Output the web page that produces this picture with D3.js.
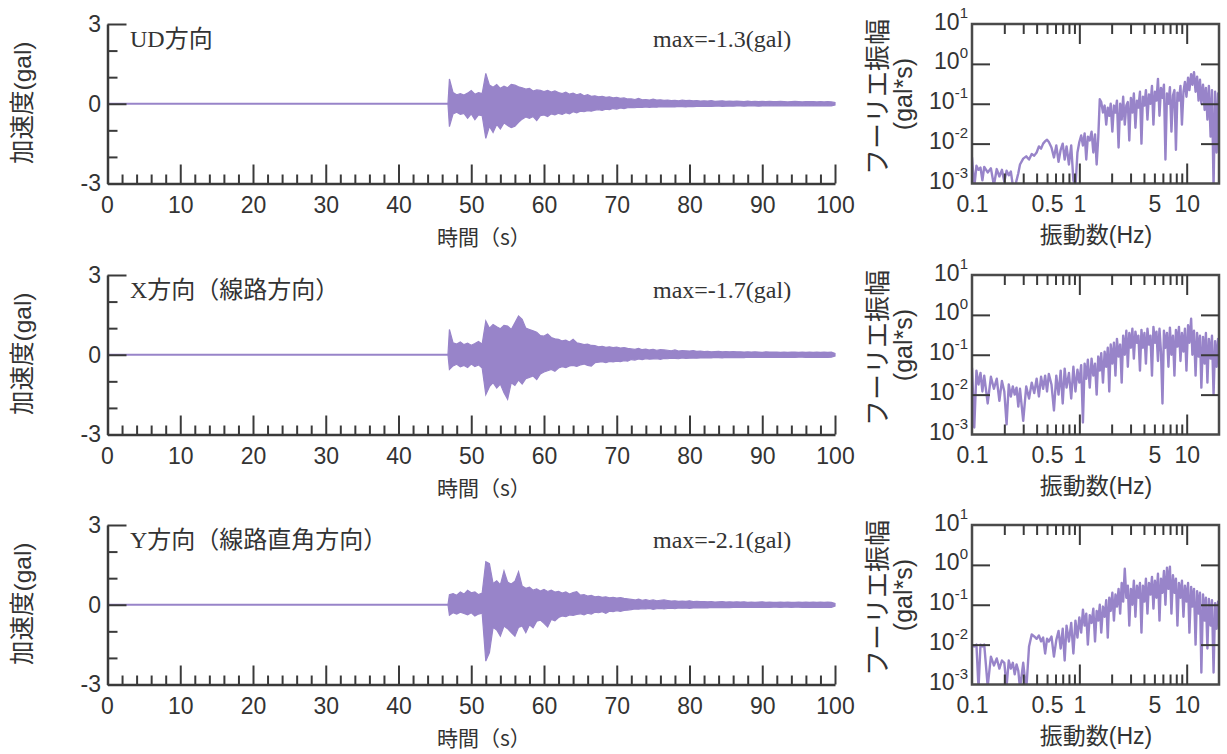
<!DOCTYPE html>
<html>
<head>
<meta charset="utf-8">
<script src="https://cdn.jsdelivr.net/npm/d3@7"></script>
<style>
  body { margin: 0; background: #fff; }
  text { fill: #333; }
</style>
</head>
<body>
<svg width="1227" height="754"></svg>
<script>
// ---- chart data ----
var titles = ["UD方向", "X方向（線路方向）", "Y方向（線路直角方向）"];
var maxLabels = ["max=-1.3(gal)", "max=-1.7(gal)", "max=-2.1(gal)"];
var timeTicks = [0, 10, 20, 30, 40, 50, 60, 70, 80, 90, 100];
var accTicks = [3, 0, -3];
var accMinorTicks = [2, 1, -1, -2];
var freqTickLabels = [0.1, 0.5, 1, 5, 10];
var ampTicks = [10, 1, 0.1, 0.01, 0.001];

// record is flat until the P onset, then peak envelope per 0.5 s bin (gal)
var onsetTime = 46.8;
var binStart = 47.0;
var binStep = 0.5;

var udUpper = [
  0.93,0.42,0.34,0.38,0.33,0.40,0.50,0.36,0.42,0.38,
  1.14,0.70,0.62,0.72,0.58,0.66,0.60,0.73,0.70,0.64,
  0.60,0.55,0.58,0.48,0.52,0.50,0.46,0.50,0.44,0.48,
  0.42,0.38,0.44,0.36,0.40,0.34,0.38,0.30,0.34,0.28,
  0.30,0.26,0.28,0.24,0.26,0.22,0.24,0.20,0.22,0.18,
  0.18,0.16,0.20,0.15,0.16,0.14,0.17,0.14,0.15,0.13,
  0.14,0.12,0.13,0.11,0.14,0.12,0.13,0.11,0.12,0.10,
  0.11,0.10,0.12,0.09,0.10,0.11,0.09,0.10,0.09,0.10,
  0.09,0.08,0.10,0.08,0.09,0.08,0.09,0.08,0.09,0.08,
  0.08,0.09,0.08,0.07,0.08,0.09,0.08,0.07,0.08,0.08,
  0.08,0.07,0.08,0.07,0.08,0.07];
var udLower = [
  -0.86,-0.38,-0.32,-0.40,-0.36,-0.55,-0.38,-0.60,-0.42,-0.45,
  -1.30,-0.85,-1.08,-0.78,-0.95,-0.72,-0.82,-0.90,-0.85,-0.70,
  -0.58,-0.50,-0.55,-0.48,-0.63,-0.45,-0.42,-0.48,-0.38,-0.42,
  -0.36,-0.40,-0.34,-0.38,-0.30,-0.34,-0.28,-0.30,-0.26,-0.28,
  -0.24,-0.22,-0.25,-0.20,-0.22,-0.18,-0.20,-0.16,-0.18,-0.15,
  -0.14,-0.15,-0.13,-0.14,-0.12,-0.14,-0.12,-0.13,-0.11,-0.12,
  -0.12,-0.11,-0.12,-0.10,-0.11,-0.12,-0.10,-0.11,-0.10,-0.09,
  -0.10,-0.09,-0.10,-0.09,-0.08,-0.10,-0.09,-0.08,-0.09,-0.08,
  -0.08,-0.09,-0.08,-0.07,-0.08,-0.09,-0.08,-0.07,-0.08,-0.07,
  -0.08,-0.07,-0.08,-0.08,-0.07,-0.08,-0.07,-0.08,-0.07,-0.08,
  -0.07,-0.08,-0.07,-0.08,-0.07,-0.08];

var xUpper = [
  0.95,0.45,0.40,0.48,0.38,0.44,0.36,0.42,0.50,0.40,
  1.27,1.00,1.14,1.05,0.98,1.10,1.08,0.95,1.20,1.46,
  1.33,1.00,0.95,0.90,0.85,0.72,0.70,0.78,0.65,0.60,
  0.58,0.52,0.55,0.48,0.58,0.45,0.42,0.38,0.40,0.35,
  0.34,0.30,0.32,0.28,0.30,0.27,0.29,0.25,0.27,0.24,
  0.22,0.20,0.24,0.19,0.21,0.18,0.20,0.17,0.19,0.18,
  0.17,0.15,0.18,0.14,0.16,0.15,0.14,0.16,0.13,0.14,
  0.12,0.13,0.11,0.12,0.13,0.11,0.12,0.11,0.12,0.11,
  0.11,0.10,0.11,0.10,0.11,0.10,0.09,0.11,0.10,0.10,
  0.10,0.09,0.10,0.09,0.10,0.10,0.09,0.10,0.09,0.10,
  0.09,0.10,0.09,0.10,0.09,0.10];
var xLower = [
  -0.55,-0.42,-0.36,-0.45,-0.40,-0.48,-0.35,-0.44,-0.38,-0.50,
  -1.50,-1.20,-1.05,-1.25,-1.10,-1.43,-1.68,-1.05,-1.15,-0.95,
  -1.10,-0.90,-0.85,-0.80,-0.93,-0.72,-0.65,-0.60,-0.55,-0.62,
  -0.50,-0.45,-0.48,-0.42,-0.40,-0.44,-0.38,-0.35,-0.40,-0.43,
  -0.30,-0.28,-0.26,-0.30,-0.25,-0.27,-0.24,-0.26,-0.22,-0.24,
  -0.18,-0.20,-0.16,-0.18,-0.15,-0.17,-0.16,-0.15,-0.17,-0.14,
  -0.15,-0.13,-0.14,-0.15,-0.12,-0.14,-0.13,-0.12,-0.13,-0.12,
  -0.12,-0.11,-0.12,-0.10,-0.11,-0.12,-0.10,-0.11,-0.10,-0.11,
  -0.10,-0.11,-0.09,-0.10,-0.10,-0.09,-0.10,-0.10,-0.09,-0.10,
  -0.09,-0.10,-0.09,-0.10,-0.09,-0.10,-0.09,-0.09,-0.10,-0.09,
  -0.10,-0.09,-0.10,-0.09,-0.10,-0.09];

var yUpper = [
  0.38,0.42,0.36,0.48,0.40,0.54,0.45,0.48,0.38,0.44,
  1.62,1.55,0.80,0.90,0.75,1.27,0.85,0.78,0.88,1.24,
  0.70,0.62,0.66,0.55,0.60,0.52,0.58,0.50,0.55,0.48,
  0.50,0.44,0.48,0.40,0.46,0.49,0.36,0.38,0.33,0.35,
  0.30,0.32,0.28,0.30,0.26,0.28,0.25,0.27,0.24,0.22,
  0.20,0.18,0.21,0.17,0.19,0.16,0.18,0.15,0.17,0.18,
  0.16,0.14,0.15,0.13,0.14,0.13,0.15,0.12,0.13,0.12,
  0.12,0.11,0.12,0.10,0.11,0.12,0.10,0.11,0.10,0.11,
  0.10,0.11,0.09,0.10,0.09,0.10,0.11,0.09,0.10,0.09,
  0.09,0.10,0.09,0.10,0.09,0.09,0.10,0.09,0.10,0.09,
  0.10,0.09,0.10,0.09,0.10,0.09];
var yLower = [
  -0.39,-0.30,-0.35,-0.28,-0.33,-0.38,-0.30,-0.42,-0.35,-0.32,
  -2.12,-1.80,-0.85,-0.95,-1.18,-0.80,-0.90,-1.05,-1.18,-0.85,
  -0.80,-1.05,-0.75,-0.87,-0.62,-0.58,-0.70,-0.84,-0.55,-0.60,
  -0.48,-0.42,-0.45,-0.38,-0.40,-0.36,-0.34,-0.38,-0.32,-0.35,
  -0.28,-0.30,-0.26,-0.32,-0.24,-0.26,-0.22,-0.25,-0.21,-0.20,
  -0.18,-0.16,-0.17,-0.15,-0.16,-0.14,-0.17,-0.15,-0.14,-0.16,
  -0.14,-0.13,-0.15,-0.12,-0.13,-0.12,-0.14,-0.12,-0.11,-0.12,
  -0.11,-0.12,-0.10,-0.11,-0.10,-0.11,-0.10,-0.11,-0.10,-0.09,
  -0.10,-0.09,-0.10,-0.09,-0.10,-0.09,-0.10,-0.09,-0.10,-0.09,
  -0.09,-0.10,-0.09,-0.09,-0.10,-0.09,-0.09,-0.10,-0.09,-0.10,
  -0.09,-0.10,-0.09,-0.10,-0.09,-0.10];

// Fourier amplitude spectra (gal*s)
var freqHz = [
  0.10,0.105,0.11,0.115,0.12,0.125,0.13,0.14,0.15,0.16,0.17,0.18,0.19,0.20,0.21,0.22,0.23,0.24,0.25,0.26,0.27,0.28,
  0.30,0.32,0.34,0.36,0.38,0.40,0.42,0.44,0.46,0.48,0.50,0.52,0.55,0.58,0.61,0.64,0.67,0.70,0.73,0.76,
  0.80,0.84,0.88,0.92,0.96,1.00,
  1.04,1.08,1.12,1.16,1.20,1.25,1.30,1.35,1.40,1.45,1.50,1.55,1.60,1.66,1.72,1.78,1.84,1.90,1.96,
  2.03,2.10,2.17,2.24,2.32,2.40,2.48,2.56,2.65,2.74,2.83,2.92,3.02,3.12,3.22,3.33,3.44,3.55,3.67,3.79,3.91,
  4.04,4.17,4.31,4.45,4.60,4.75,4.90,5.06,5.23,5.40,5.58,5.76,5.95,6.14,6.34,6.55,6.76,6.98,
  7.21,7.45,7.69,7.94,8.20,8.47,8.75,9.03,9.33,9.63,9.95,10.3,10.6,11.0,11.3,11.7,
  12.1,12.5,12.9,13.3,13.7,14.2,14.7,15.1,15.6,16.1,16.7,17.2,17.8,18.4,19.0,19.6,20.0];

var udFourier = [
  0.0045,0.0008,0.0028,0.0022,0.0025,0.0012,0.0026,0.0019,0.0024,0.0009,0.0023,0.0015,0.0022,0.0011,0.0021,0.0016,0.0020,0.0009,0.0007,0.0012,0.0018,0.0030,
  0.0042,0.0048,0.0040,0.0055,0.0050,0.0060,0.0085,0.0075,0.0100,0.0115,0.0125,0.0110,0.0080,0.0045,0.0090,0.0035,0.0070,0.0100,0.0040,0.0085,
  0.0030,0.0090,0.0012,0.0008,0.0060,0.0110,
  0.016,0.009,0.018,0.004,0.015,0.012,0.020,0.006,0.017,0.003,0.014,0.13,0.11,0.06,0.09,0.03,0.08,0.05,0.10,
  0.02,0.09,0.06,0.12,0.008,0.10,0.04,0.15,0.03,0.09,0.11,0.012,0.14,0.06,0.18,0.025,0.12,0.08,0.20,0.01,0.15,
  0.09,0.22,0.04,0.17,0.10,0.28,0.03,0.20,0.12,0.42,0.05,0.25,0.14,0.30,0.004,0.18,0.10,0.26,
  0.02,0.16,0.22,0.007,0.19,0.12,0.28,0.03,0.20,0.35,0.15,0.45,0.22,0.55,0.30,0.62,
  0.20,0.48,0.12,0.40,0.10,0.30,0.07,0.25,0.04,0.28,0.015,0.22,0.0008,0.20,0.006,0.18,0.10];

var xFourier = [
  0.047,0.0015,0.040,0.018,0.035,0.012,0.030,0.006,0.028,0.014,0.025,0.007,0.022,0.012,0.0018,0.018,0.009,0.016,0.010,0.015,0.005,0.014,
  0.0022,0.016,0.008,0.020,0.011,0.025,0.009,0.028,0.014,0.030,0.012,0.033,0.018,0.004,0.030,0.010,0.040,0.006,0.045,0.015,
  0.035,0.008,0.050,0.012,0.042,0.020,
  0.055,0.002,0.060,0.025,0.075,0.015,0.080,0.030,0.060,0.010,0.090,0.040,0.110,0.020,0.120,0.050,0.150,0.012,0.180,
  0.060,0.200,0.030,0.250,0.090,0.180,0.020,0.300,0.100,0.400,0.050,0.350,0.150,0.450,0.080,0.380,0.200,0.300,0.040,0.420,0.150,
  0.350,0.060,0.450,0.180,0.300,0.030,0.500,0.200,0.380,0.070,0.450,0.120,0.006,0.400,0.150,0.350,0.050,0.480,
  0.100,0.300,0.030,0.420,0.160,0.500,0.070,0.350,0.120,0.450,0.040,0.550,0.200,0.800,0.100,0.400,
  0.030,0.350,0.090,0.300,0.015,0.280,0.060,0.350,0.020,0.250,0.080,0.300,0.010,0.220,0.050,0.250,0.120];

var yFourier = [
  0.010,0.009,0.010,0.0008,0.010,0.009,0.010,0.0009,0.005,0.003,0.0045,0.0025,0.004,0.0035,0.0009,0.0040,0.0025,0.0035,0.0018,0.0032,0.0022,0.0008,
  0.0035,0.0007,0.009,0.018,0.016,0.014,0.017,0.012,0.015,0.006,0.014,0.012,0.016,0.005,0.013,0.022,0.008,0.025,0.004,0.030,
  0.012,0.035,0.006,0.040,0.015,0.048,
  0.020,0.075,0.030,0.060,0.010,0.055,0.035,0.080,0.012,0.070,0.040,0.100,0.020,0.090,0.050,0.130,0.015,0.150,0.070,
  0.200,0.040,0.180,0.090,0.250,0.060,0.350,0.120,0.800,0.150,0.300,0.030,0.250,0.100,0.400,0.050,0.300,0.150,0.350,0.020,0.300,
  0.120,0.450,0.060,0.350,0.180,0.500,0.080,0.400,0.150,0.600,0.040,0.450,0.200,0.700,0.100,0.850,0.250,0.900,
  0.060,0.550,0.200,0.450,0.030,0.350,0.150,0.400,0.050,0.300,0.120,0.350,0.020,0.280,0.090,0.250,
  0.010,0.220,0.060,0.200,0.002,0.180,0.040,0.150,0.008,0.140,0.030,0.130,0.002,0.110,0.025,0.120,0.060];

var upperSeries = [udUpper, xUpper, yUpper];
var lowerSeries = [udLower, xLower, yLower];
var fourierSeries = [udFourier, xFourier, yFourier];

// ---- layout ----
var rowTops = [24, 275, 525];
var plotH = 159.5;
var lineColor = "#9884c9";
var axisColor = "#3a3a3a";
var numFont = "'Liberation Sans', Arial, sans-serif";
var jpFont = "'Liberation Sans', Arial, 'Noto Sans CJK JP', sans-serif";
var serifFont = "'Liberation Serif', 'Times New Roman', 'Noto Sans CJK JP', serif";

var svg = d3.select("svg");

var x = d3.scaleLinear().domain([0, 100]).range([107.5, 835]);
var fx = d3.scaleLog().domain([0.1, 20]).range([972, 1219]);

var timeMinor = d3.range(2, 100, 2).filter(function(d) { return d % 10 !== 0; });
var freqMinor = [0.2,0.3,0.4,0.5,0.6,0.7,0.8,0.9,2,3,4,5,6,7,8,9];

function styleAxis(g, w) {
  g.selectAll("path.domain").attr("stroke", axisColor).attr("stroke-width", 2.5);
  g.selectAll(".tick line").attr("stroke", axisColor).attr("stroke-width", w || 2);
  g.selectAll("text").attr("fill", "#333").attr("font-family", numFont).attr("font-size", 23);
}

rowTops.forEach(function(top, r) {
  var bottom = top + plotH;
  var y = d3.scaleLinear().domain([-3, 3]).range([bottom, top]);

  // time history: quiet part before onset, then the filled oscillation band
  svg.append("line")
    .attr("x1", x(0)).attr("x2", x(onsetTime))
    .attr("y1", y(0)).attr("y2", y(0))
    .attr("stroke", lineColor).attr("stroke-width", 2.2);

  var bins = upperSeries[r].map(function(v, i) {
    return { t: binStart + i * binStep, hi: v, lo: lowerSeries[r][i] };
  });
  bins.unshift({ t: onsetTime, hi: 0, lo: 0 });
  bins.push({ t: 100, hi: 0.05, lo: -0.05 });

  var band = d3.area()
    .x(function(d) { return x(d.t); })
    .y0(function(d) { return y(d.lo); })
    .y1(function(d) { return y(d.hi); });

  svg.append("path")
    .attr("d", band(bins))
    .attr("fill", lineColor)
    .attr("stroke", lineColor)
    .attr("stroke-width", 1.2)
    .attr("stroke-linejoin", "miter");

  // time axis (ticks inward, pointing up)
  var gx = svg.append("g").attr("transform", "translate(0," + bottom + ")");
  gx.call(d3.axisBottom(x).tickValues(timeMinor).tickSizeInner(-9).tickSizeOuter(0).tickFormat(""));
  styleAxis(gx);
  var gx2 = svg.append("g").attr("transform", "translate(0," + bottom + ")");
  gx2.call(d3.axisBottom(x).tickValues(timeTicks.slice(1)).tickSizeInner(-19).tickSizeOuter(0).tickPadding(13.5).tickFormat(d3.format("d")));
  gx2.select("path.domain").remove();
  styleAxis(gx2);
  gx2.append("text").attr("x", x(timeTicks[0])).attr("y", 13.5).attr("dy", "0.71em")
    .attr("text-anchor", "middle").attr("fill", "#333")
    .attr("font-family", numFont).attr("font-size", 23).text(String(timeTicks[0]));

  // acceleration axis
  var gy = svg.append("g").attr("transform", "translate(" + x(0) + ",0)");
  gy.call(d3.axisLeft(y).tickValues(accMinorTicks).tickSizeInner(-10).tickSizeOuter(0).tickFormat(""));
  styleAxis(gy);
  var gy2 = svg.append("g").attr("transform", "translate(" + x(0) + ",0)");
  gy2.call(d3.axisLeft(y).tickValues(accTicks).tickSizeInner(-19).tickSizeOuter(0).tickPadding(6.5)
    .tickFormat(function(d) { return d < 0 ? "-" + Math.abs(d) : String(d); }));
  gy2.select("path.domain").remove();
  styleAxis(gy2);

  svg.append("text")
    .attr("transform", "translate(22," + (y(0) - 1) + ") rotate(-90)")
    .attr("text-anchor", "middle").attr("dominant-baseline", "central")
    .attr("font-family", jpFont).attr("font-size", 24.5)
    .text("加速度(gal)");

  svg.append("text")
    .attr("x", 130).attr("y", top + 22.7)
    .attr("font-family", serifFont).attr("font-size", 24).attr("fill", "#2a2a2a")
    .text(titles[r]);

  svg.append("text")
    .attr("x", 653).attr("y", top + 22.7)
    .attr("font-family", serifFont).attr("font-size", 24).attr("fill", "#2a2a2a")
    .text(maxLabels[r]);

  svg.append("text")
    .attr("x", 437).attr("y", top + 221)
    .attr("font-family", "'Noto Sans CJK JP', sans-serif").attr("font-size", 21)
    .text("時間（s）");

  // ---- Fourier spectrum ----
  var fy = d3.scaleLog().domain([0.001, 10]).range([bottom, top]);
  var clipId = "clip" + r;
  svg.append("clipPath").attr("id", clipId)
    .append("rect").attr("x", fx(0.1)).attr("y", top)
    .attr("width", fx(20) - fx(0.1)).attr("height", plotH);

  var spec = freqHz.map(function(f, i) { return [f, fourierSeries[r][i]]; })
    .filter(function(d) { return d[1] !== undefined; });
  var fline = d3.line()
    .x(function(d) { return fx(d[0]); })
    .y(function(d) { return fy(d[1]); });
  svg.append("path")
    .attr("d", fline(spec))
    .attr("clip-path", "url(#" + clipId + ")")
    .attr("fill", "none")
    .attr("stroke", lineColor)
    .attr("stroke-width", 2.4)
    .attr("stroke-linejoin", "round");

  // frame
  svg.append("rect")
    .attr("x", fx(0.1)).attr("y", top)
    .attr("width", fx(20) - fx(0.1)).attr("height", plotH)
    .attr("fill", "none").attr("stroke", "#4a4a4a").attr("stroke-width", 2.5);

  [[bottom, d3.axisBottom], [top, d3.axisTop]].forEach(function(a) {
    var g1 = svg.append("g").attr("transform", "translate(0," + a[0] + ")");
    g1.call(a[1](fx).tickValues(freqMinor).tickSizeInner(-10).tickSizeOuter(0).tickFormat(""));
    g1.select("path.domain").remove();
    styleAxis(g1);
    var g2 = svg.append("g").attr("transform", "translate(0," + a[0] + ")");
    g2.call(a[1](fx).tickValues([1, 10]).tickSizeInner(-20).tickSizeOuter(0).tickFormat(""));
    g2.select("path.domain").remove();
    styleAxis(g2);
  });

  var gl = svg.append("g").attr("transform", "translate(0," + bottom + ")");
  gl.call(d3.axisBottom(fx).tickValues(freqTickLabels).tickSize(0).tickPadding(12)
    .tickFormat(function(d) { return String(d); }));
  gl.select("path.domain").remove();
  styleAxis(gl);

  [[fx(0.1), d3.axisLeft], [fx(20), d3.axisRight]].forEach(function(a) {
    var g = svg.append("g").attr("transform", "translate(" + a[0] + ",0)");
    g.call(a[1](fy).tickValues([1, 0.1, 0.01]).tickSizeInner(-18).tickSizeOuter(0).tickFormat(""));
    g.select("path.domain").remove();
    styleAxis(g);
  });

  var gyl = svg.append("g").attr("transform", "translate(" + (fx(0.1) - 4) + ",0)");
  gyl.selectAll("text").data(ampTicks).enter().append("text")
    .attr("y", function(d) { return fy(d); })
    .attr("dy", "0.35em")
    .attr("text-anchor", "end")
    .attr("font-family", numFont)
    .each(function(d) {
      var t = d3.select(this);
      t.append("tspan").attr("font-size", 23).text("10");
      t.append("tspan").attr("font-size", 15).attr("dy", "-0.75em")
        .text(String(Math.round(Math.log10(d))));
    });

  svg.append("text")
    .attr("transform", "translate(875," + (top + 73) + ") rotate(-90)")
    .attr("text-anchor", "middle").attr("dominant-baseline", "central")
    .attr("font-family", "'Noto Sans CJK JP', sans-serif").attr("font-size", 26)
    .text("フーリエ振幅");
  svg.append("text")
    .attr("transform", "translate(903," + (top + 70) + ") rotate(-90)")
    .attr("text-anchor", "middle").attr("dominant-baseline", "central")
    .attr("font-family", numFont).attr("font-size", 25)
    .text("(gal*s)");

  svg.append("text")
    .attr("x", 1096).attr("y", top + 219)
    .attr("text-anchor", "middle")
    .attr("font-family", jpFont).attr("font-size", 23)
    .text("振動数(Hz)");
});
</script>
</body>
</html>
